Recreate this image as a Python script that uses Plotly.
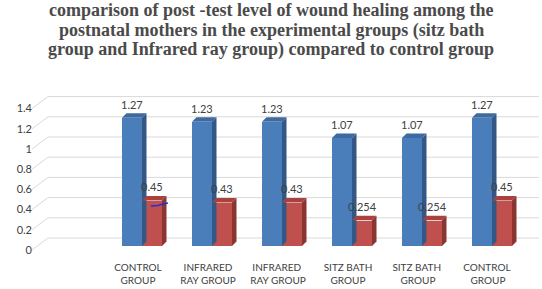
import plotly.graph_objects as go

categories = ["CONTROL<br>GROUP", "INFRARED<br>RAY GROUP", "INFRARED <br>RAY GROUP",
              "SITZ BATH<br>GROUP", "SITZ BATH <br>GROUP", "CONTROL <br>GROUP"]
series_a = [1.27, 1.23, 1.23, 1.07, 1.07, 1.27]
series_b = [0.45, 0.43, 0.43, 0.254, 0.254, 0.45]
label_a = ["1.27", "1.23", "1.23", "1.07", "1.07", "1.27"]
label_b = ["0.45", "0.43", "0.43", "0.254", "0.254", "0.45"]
y_ticks = [0, 0.2, 0.4, 0.6, 0.8, 1, 1.2, 1.4]
title_lines = ["comparison of post -test level of wound healing among the",
               "postnatal mothers in the experimental groups (sitz bath",
               "group and Infrared ray group) compared to control group"]

W, H = 542, 289
# pixel layout
px_left, px_right = 48, 539
px_zero, px_per_unit = 246, 101.0
back_shift = 8          # back wall offset (px up)
stub_x0 = 32
y_max = 1.4
cat_px0, cat_step = 142, 70   # centre of first category, spacing
x0 = -(cat_px0 - px_left) / cat_step
x1 = x0 + (px_right - px_left) / cat_step

def py(p):  # pixel y -> paper
    return 1 - p / H

def pxx(p):
    return p / W

top_px = px_zero - y_max * px_per_unit

blue, blue_top, blue_side = "#4a7ebb", "#3e69a1", "#345886"
red, red_top, red_side = "#c0504d", "#a9423f", "#8b3533"

bar_w = 20 / cat_step          # each bar width in category units
depth_x = 4.5 / cat_step
depth_y = 4.5 / px_per_unit

fig = go.Figure()
fig.add_trace(go.Bar(x=list(range(len(categories))), y=series_a, marker_color=blue,
                     marker_line_width=0, width=bar_w, offset=-bar_w, showlegend=False,
                     hoverinfo="skip"))
fig.add_trace(go.Bar(x=list(range(len(categories))), y=series_b, marker_color=red,
                     marker_line_width=0, width=bar_w, offset=0, showlegend=False,
                     hoverinfo="skip"))

shapes = []
# back gridlines on wall + diagonal stubs
for t in y_ticks:
    yb = px_zero - t * px_per_unit - back_shift
    yf = px_zero - t * px_per_unit + 4
    shapes.append(dict(type="line", xref="paper", yref="paper",
                       x0=pxx(px_left), x1=pxx(px_right), y0=py(yb), y1=py(yb),
                       line=dict(color="#d9d9d9", width=1), layer="below"))
    shapes.append(dict(type="line", xref="paper", yref="paper",
                       x0=pxx(stub_x0), x1=pxx(px_left), y0=py(yf), y1=py(yb),
                       line=dict(color="#d9d9d9", width=1), layer="below"))

def faces(i, v, left, top_c, side_c):
    xl = i + left
    xr = xl + bar_w
    top = (f"M {xl} {v} L {xr} {v} L {xr + depth_x} {v + depth_y} "
           f"L {xl + depth_x} {v + depth_y} Z")
    side = (f"M {xr} 0 L {xr} {v} L {xr + depth_x} {v + depth_y} "
            f"L {xr + depth_x} {depth_y} Z")
    return [dict(type="path", xref="x", yref="y", path=top, fillcolor=top_c,
                 line=dict(width=0), layer="above"),
            dict(type="path", xref="x", yref="y", path=side, fillcolor=side_c,
                 line=dict(width=0), layer="above")]

for i in range(len(categories)):
    shapes += faces(i, series_a[i], -bar_w, blue_top, blue_side)
    shapes += faces(i, series_b[i], 0, red_top, red_side)

# small stray blue pen stroke seen on the first red bar
shapes.append(dict(type="path", xref="paper", yref="paper",
                   path=f"M {pxx(151)} {py(206)} L {pxx(158)} {py(205.5)} "
                        f"L {pxx(163)} {py(204)} L {pxx(168)} {py(203)}",
                   line=dict(color="#1f2fd6", width=1.5), layer="above"))

annotations = []
lab_font = dict(family="Lato, Open Sans, sans-serif", size=11, color="#404040")
for i in range(len(categories)):
    annotations.append(dict(x=i, y=series_a[i], xref="x", yref="y", text=label_a[i],
                            showarrow=False, xshift=-10, yshift=13, yanchor="middle",
                            font=lab_font))
    annotations.append(dict(x=i, y=series_b[i], xref="x", yref="y", text=label_b[i],
                            showarrow=False, xshift=10, yshift=14, yanchor="middle",
                            font=lab_font))

title_font = dict(family="Liberation Serif, Times New Roman, serif", size=18, color="#4a4a4a")
for k, line in enumerate(title_lines):
    annotations.append(dict(x=0.5, y=py(10 + 20 * k), xref="paper", yref="paper",
                            text=f"<b>{line}</b>", showarrow=False,
                            xanchor="center", yanchor="middle", font=title_font))

fig.update_layout(
    width=W, height=H, margin=dict(l=0, r=0, t=0, b=0, autoexpand=False),
    paper_bgcolor="white", plot_bgcolor="rgba(0,0,0,0)",
    shapes=shapes, annotations=annotations, bargap=0, showlegend=False,
    xaxis=dict(domain=[pxx(px_left), pxx(px_right)], range=[x0, x1], automargin=False,
               tickmode="array", tickvals=list(range(len(categories))),
               ticktext=categories, showgrid=False, zeroline=False, showline=False,
               ticks="outside", ticklen=12, tickcolor="rgba(0,0,0,0)",
               ticklabelshift=-4,
               tickfont=dict(family="Lato, Open Sans, sans-serif", size=10, color="#404040")),
    yaxis=dict(domain=[py(px_zero), py(top_px)], range=[0, y_max], automargin=False,
               tickvals=y_ticks, ticktext=[f"{t:g}" for t in y_ticks],
               showgrid=False, zeroline=False, showline=False,
               anchor="free", position=pxx(stub_x0), ticklabelshift=4,
               tickfont=dict(family="Lato, Open Sans, sans-serif", size=11, color="#404040")),
)

fig.write_html("out.html")
